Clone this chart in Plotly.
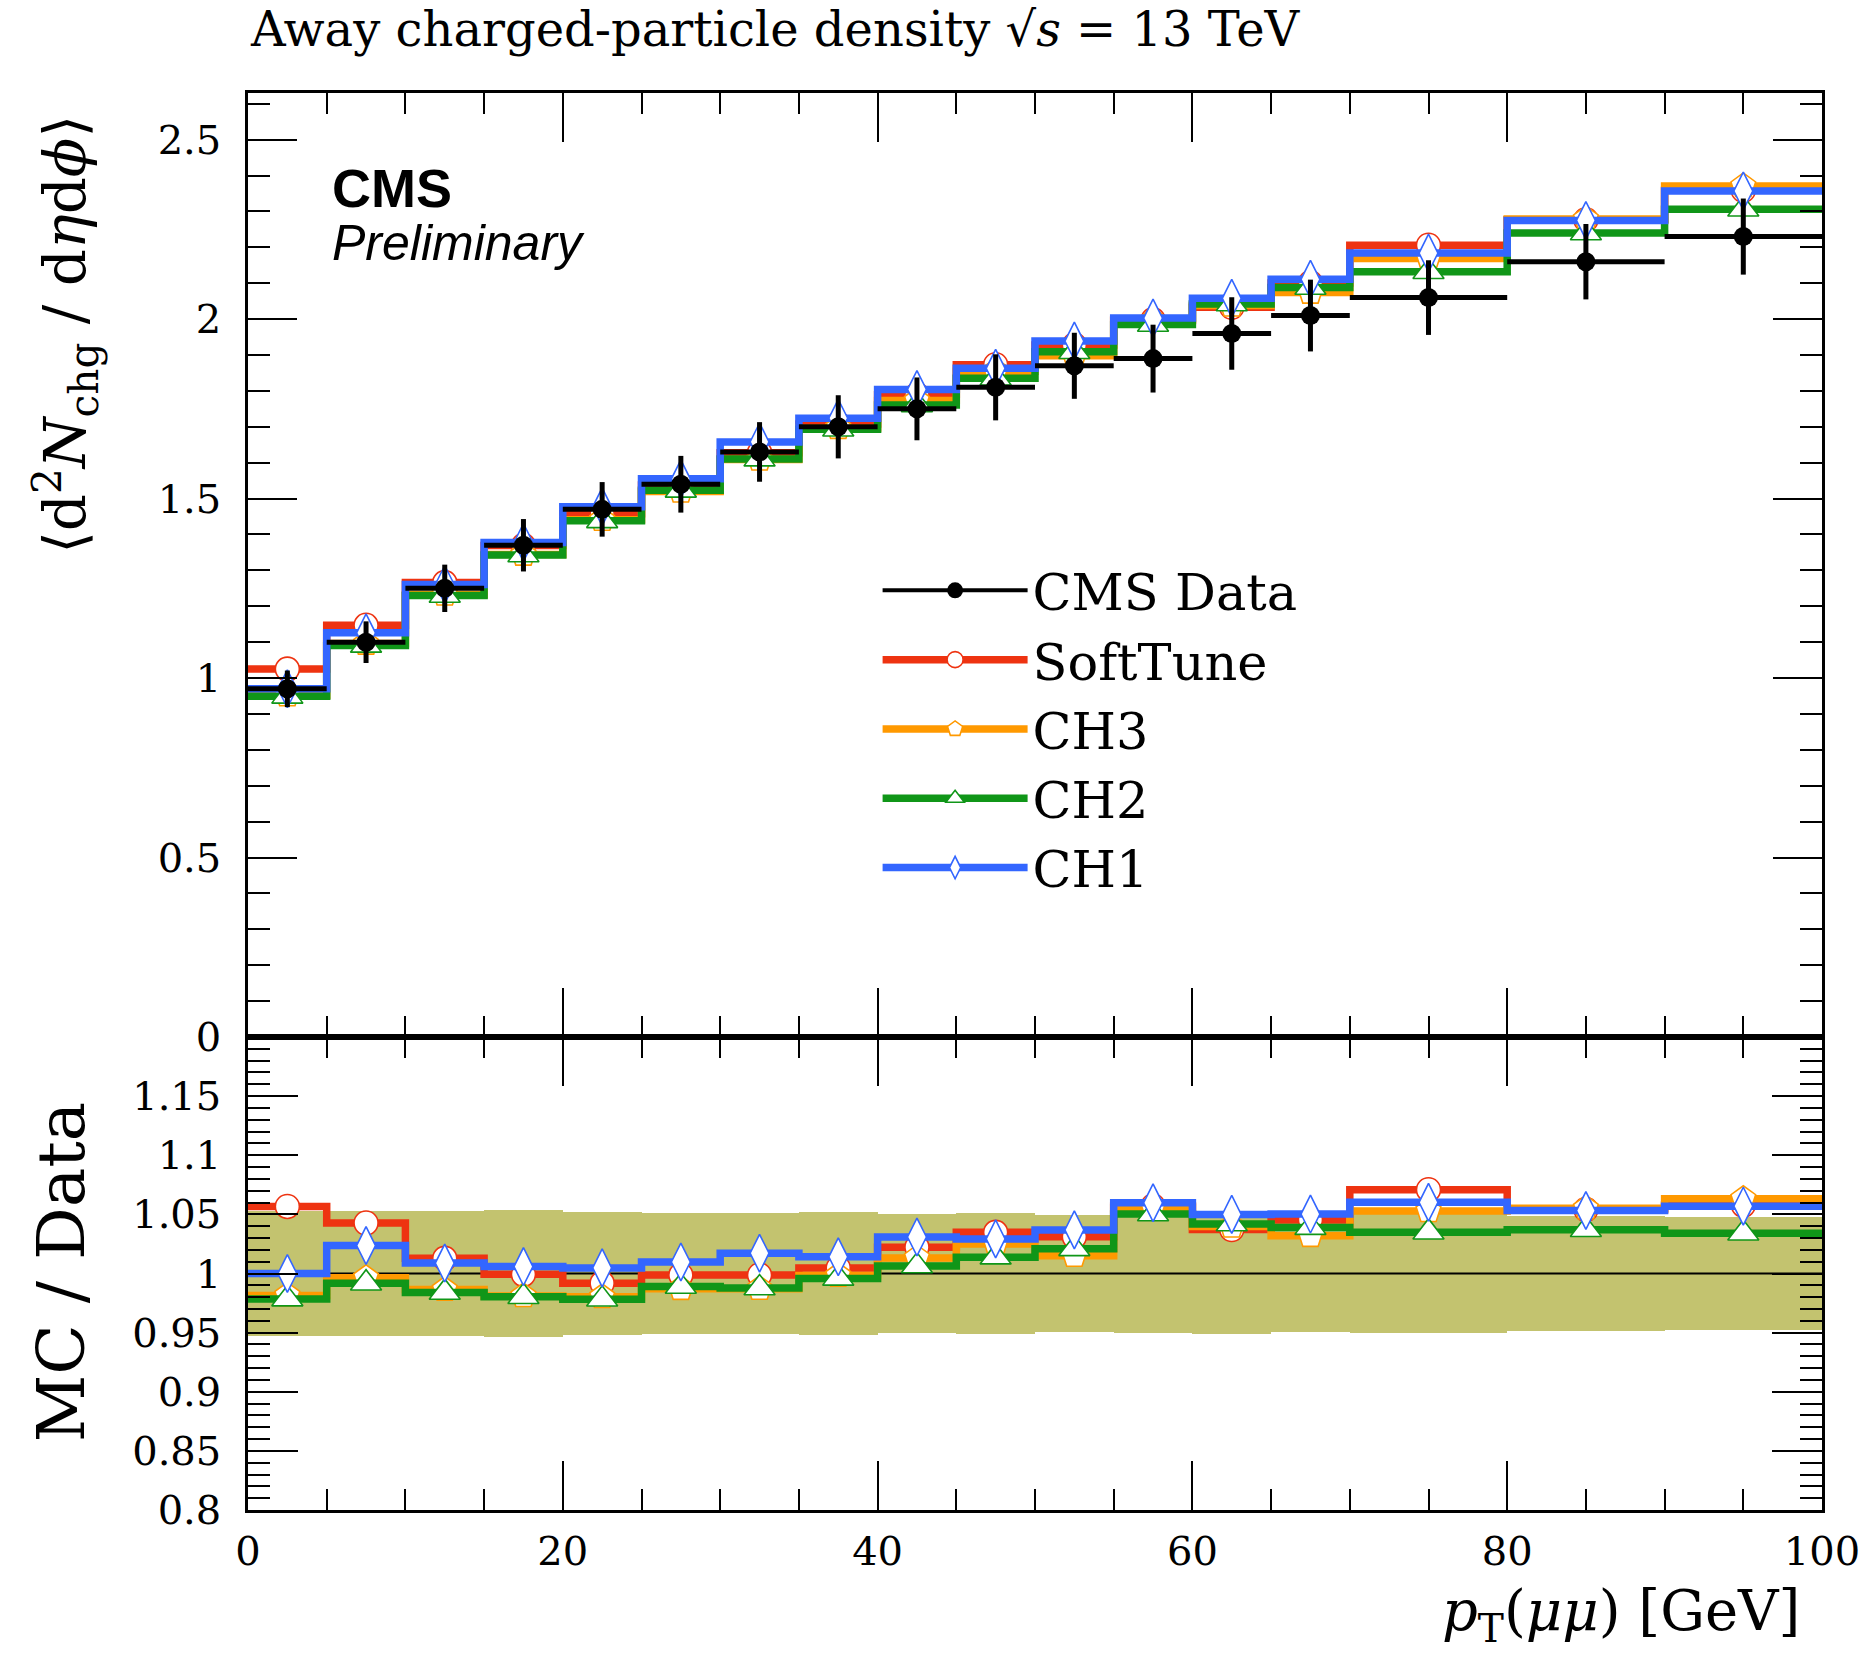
import plotly.graph_objects as go

# ---------------- data ----------------
bin_edges = [0, 5, 10, 15, 20, 25, 30, 35, 40, 45, 50, 55, 60, 65, 70, 80, 90, 100]
data_vals = [0.970, 1.100, 1.250, 1.370, 1.470, 1.540, 1.630, 1.700, 1.750, 1.810,
             1.870, 1.890, 1.960, 2.010, 2.060, 2.160, 2.230]
data_errs = [0.051, 0.058, 0.066, 0.073, 0.076, 0.079, 0.083, 0.088, 0.0875, 0.092,
             0.092, 0.0945, 0.101, 0.100, 0.104, 0.105, 0.106]
softtune = [1.025, 1.147, 1.266, 1.369, 1.458, 1.538, 1.628, 1.708, 1.789, 1.873,
            1.928, 1.998, 2.033, 2.101, 2.206, 2.277, 2.359]
ch3 = [0.952, 1.096, 1.233, 1.344, 1.441, 1.520, 1.609, 1.697, 1.773, 1.855,
       1.898, 1.996, 2.038, 2.074, 2.169, 2.279, 2.371]
ch2 = [0.949, 1.091, 1.230, 1.343, 1.438, 1.523, 1.610, 1.693, 1.761, 1.835,
       1.909, 1.985, 2.042, 2.088, 2.132, 2.240, 2.306]
ch1 = [0.970, 1.126, 1.261, 1.378, 1.477, 1.555, 1.658, 1.724, 1.804, 1.863,
       1.939, 2.003, 2.058, 2.111, 2.184, 2.275, 2.357]

x_tickvals = [0, 20, 40, 60, 80, 100]
y_tickvals_top = [0, 0.5, 1, 1.5, 2, 2.5]
y_tickvals_ratio = [0.8, 0.85, 0.9, 0.95, 1, 1.05, 1.1, 1.15]

series = [
    ("SoftTune", softtune, "#EE3311", "circle", 24),
    ("CH3", ch3, "#FF9900", "pentagon", 26),
    ("CH2", ch2, "#109618", "triangle-up", 27),
    ("CH1", ch1, "#3366FF", "diamond-tall", 27),
]

centers = [(a + b) / 2 for a, b in zip(bin_edges[:-1], bin_edges[1:])]
halfw = [(b - a) / 2 for a, b in zip(bin_edges[:-1], bin_edges[1:])]
widths = [b - a for a, b in zip(bin_edges[:-1], bin_edges[1:])]

SERIF = "DejaVu Serif"
LW = 7.5

fig = go.Figure()

# ---------- ratio band ----------
rel = [e / v for e, v in zip(data_errs, data_vals)]
fig.add_trace(go.Bar(
    x=centers, y=[2 * r for r in rel], base=[1 - r for r in rel], width=widths,
    marker=dict(color="rgb(195,195,111)", line=dict(width=0)),
    xaxis="x2", yaxis="y2", showlegend=False, hoverinfo="skip"))
fig.add_trace(go.Scatter(
    x=[bin_edges[0], bin_edges[-1]], y=[1, 1], mode="lines",
    line=dict(color="black", width=2), xaxis="x2", yaxis="y2",
    showlegend=False, hoverinfo="skip"))

# ---------- data legend entry ----------
fig.add_trace(go.Scatter(
    x=[None], y=[None], mode="lines+markers", name="CMS Data",
    line=dict(color="black", width=4),
    marker=dict(symbol="circle", size=16, color="black")))

for name, vals, col, sym, msz in series:
    step_x = bin_edges
    step_y = vals + [vals[-1]]
    ratio = [m / d for m, d in zip(vals, data_vals)]
    ratio_step = ratio + [ratio[-1]]
    mk = dict(symbol=sym, size=msz, color="white", line=dict(color=col, width=1.6))
    # top panel
    fig.add_trace(go.Scatter(x=step_x, y=step_y, mode="lines", line_shape="hv",
                             line=dict(color=col, width=LW), showlegend=False,
                             hoverinfo="skip"))
    fig.add_trace(go.Scatter(x=centers, y=vals, mode="markers", marker=mk,
                             showlegend=False))
    # ratio panel
    fig.add_trace(go.Scatter(x=step_x, y=ratio_step, mode="lines", line_shape="hv",
                             line=dict(color=col, width=LW), showlegend=False,
                             xaxis="x2", yaxis="y2", hoverinfo="skip"))
    fig.add_trace(go.Scatter(x=centers, y=ratio, mode="markers", marker=mk,
                             showlegend=False, xaxis="x2", yaxis="y2"))
    # legend entry
    fig.add_trace(go.Scatter(x=[None], y=[None], mode="lines+markers", name=name,
                             line=dict(color=col, width=LW), marker=mk))

# data points
fig.add_trace(go.Scatter(
    x=centers, y=data_vals, mode="markers",
    marker=dict(symbol="circle", size=19, color="black"),
    error_x=dict(type="data", array=halfw, color="black", thickness=5, width=0),
    error_y=dict(type="data", array=data_errs, color="black", thickness=5, width=0),
    showlegend=False))

tickfont = dict(family=SERIF, size=40, color="black")
common_x = dict(range=[bin_edges[0], bin_edges[-1]], ticks="inside", tickvals=x_tickvals,
                ticklen=49, tickwidth=1.5, tickcolor="black", automargin=False,
                minor=dict(dtick=5, tick0=0, ticklen=21, tickwidth=1.5, tickcolor="black", ticks="inside"),
                showline=True, linecolor="black", linewidth=2.5, mirror="ticks",
                showgrid=False, zeroline=False)

fig.update_layout(
    width=1864, height=1659,
    margin=dict(l=248, r=42, t=93, b=149, autoexpand=False),
    paper_bgcolor="white", plot_bgcolor="white",
    barmode="overlay", bargap=0,
    xaxis=dict(**common_x, anchor="y", showticklabels=False, matches="x2"),
    xaxis2=dict(**common_x, anchor="y2", showticklabels=True, tickfont=tickfont,
                ticklabelstandoff=4),
    yaxis=dict(domain=[0.3338, 1], range=[0, 2.63], tickvals=y_tickvals_top, ticks="inside",
               ticklen=49, tickwidth=1.5, tickcolor="black", automargin=False,
               minor=dict(dtick=0.1, tick0=0, ticklen=22, tickwidth=1.5, tickcolor="black", ticks="inside"),
               showline=True, linecolor="black", linewidth=2.5, mirror="ticks",
               showgrid=False, zeroline=False, tickfont=tickfont, ticklabelstandoff=16,
               anchor="x"),
    yaxis2=dict(domain=[0, 0.3338], range=[0.8, 1.2], tickvals=y_tickvals_ratio, ticks="inside",
                ticklen=50, tickwidth=1.5, tickcolor="black", automargin=False,
                minor=dict(dtick=0.01, tick0=0.8, ticklen=22, tickwidth=1.5, tickcolor="black", ticks="inside"),
                showline=True, linecolor="black", linewidth=2.5, mirror="ticks",
                showgrid=False, zeroline=False, tickfont=tickfont, ticklabelstandoff=16,
                anchor="x2"),
    legend=dict(x=0.40, y=0.677, xanchor="left", yanchor="top", itemwidth=145,
                font=dict(family=SERIF, size=51, color="black"),
                bgcolor="rgba(0,0,0,0)", borderwidth=0, tracegroupgap=0),
    showlegend=True,
)

annots = [
    dict(text="Away charged-particle density √<i>s</i> = 13 TeV", x=0.0, y=1.045,
         xanchor="left", yanchor="middle", font=dict(family=SERIF, size=48)),
    dict(text="<b>CMS</b>", x=0.052, y=0.933, xanchor="left", yanchor="middle",
         font=dict(family="Liberation Sans", size=54)),
    dict(text="<i>Preliminary</i>", x=0.052, y=0.894, xanchor="left", yanchor="middle",
         font=dict(family="Liberation Sans", size=50)),
    dict(text="⟨d<sup>2</sup><i>N</i><sub>chg</sub> / d<i>η</i>d<i>ϕ</i>⟩", x=-0.116, y=0.986,
         xanchor="center", yanchor="top", textangle=-90, font=dict(family=SERIF, size=58)),
    dict(text="MC / Data", x=-0.118, y=0.168, xanchor="center", yanchor="middle",
         textangle=-90, font=dict(family=SERIF, size=66)),
    dict(text="<i>p</i><sub>T</sub>(<i>μμ</i>) [GeV]", x=0.987, y=-0.074,
         xanchor="right", yanchor="middle", font=dict(family=SERIF, size=56)),
]
for a in annots:
    a.update(xref="paper", yref="paper", showarrow=False)
    a["font"]["color"] = "black"
fig.update_layout(annotations=annots)

fig.write_html("out.html", config={"displayModeBar": False},
               post_script="document.body.style.margin='0';document.body.style.overflow='hidden';")
